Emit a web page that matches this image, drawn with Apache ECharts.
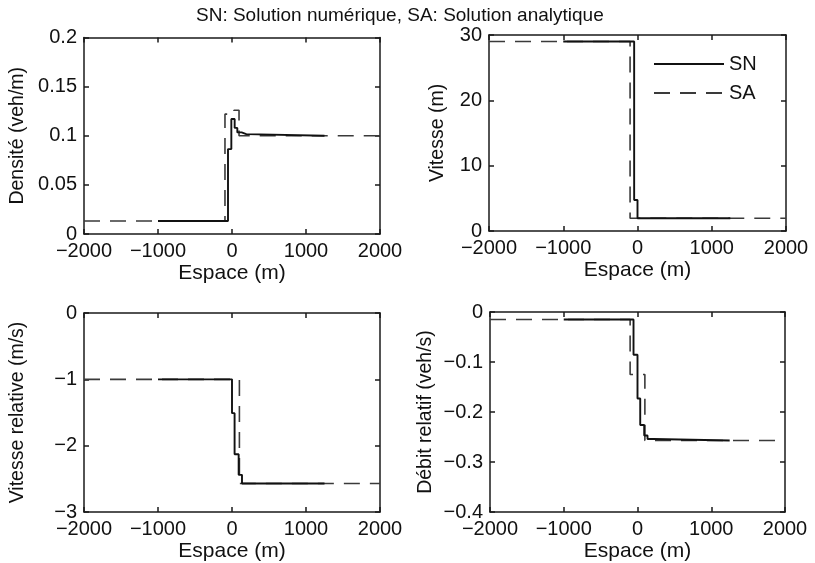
<!DOCTYPE html>
<html>
<head>
<meta charset="utf-8">
<script src="https://cdn.jsdelivr.net/npm/echarts@6/dist/echarts.min.js"></script>
<style>html,body{margin:0;padding:0;background:#fff;}#c{width:815px;height:563px;}</style>
</head>
<body>
<div id="c"></div>
<script>
// ---- data ----
const xTicks = [-2000, -1000, 0, 1000, 2000];
const densTicks = [0, 0.05, 0.1, 0.15, 0.2];
const vitTicks = [0, 10, 20, 30];
const vrelTicks = [-3, -2, -1, 0];
const debTicks = [-0.4, -0.3, -0.2, -0.1, 0];

const seriesNames = ['SN', 'SA'];
const titleText = 'SN: Solution numérique, SA: Solution analytique';
const xName = 'Espace (m)';
const yNames = ['Densité (veh/m)', 'Vitesse (m)', 'Vitesse relative (m/s)', 'Débit relatif (veh/s)'];

// Densité
const densSN_x = [-1000, -54, -9, 36, 72, 130, 193, 1250];
const densSN_y = [0.0133, 0.0864, 0.117, 0.108, 0.1034, 0.1017, 0.1, 0.1];
const densSA_x = [-2000, -95, 27, 95, 2000];
const densSA_y = [0.0133, 0.122, 0.126, 0.1, 0.1];
// Vitesse
const vitSN_x = [-1000, -45, 0, 1250];
const vitSN_y = [29, 4.75, 1.95, 1.95];
const vitSA_x = [-2000, -100, 2000];
const vitSA_y = [29, 1.95, 1.95];
// Vitesse relative
const vrelSN_x = [-1000, 0, 35, 90, 135, 1250];
const vrelSN_y = [-1, -1.51, -2.13, -2.44, -2.57, -2.57];
const vrelSA_x = [-2000, 100, 2000];
const vrelSA_y = [-1, -2.57, -2.57];
// Débit relatif
const debSN_x = [-1000, -54, 0, 37, 91, 136, 218, 1250];
const debSN_y = [-0.015, -0.0855, -0.173, -0.226, -0.247, -0.254, -0.257, -0.257];
const debSA_x = [-2000, -100, 100, 2000];
const debSA_y = [-0.015, -0.125, -0.257, -0.257];

// ---- chart ----
const FONT = '"Liberation Sans", Arial, sans-serif';
const TICK_FS = 20, XNAME_FS = 21, YNAME_FS = 19.5;
const minus = v => String(v).replace('-', '\u2212');
const zip = (xs, ys) => xs.map((x, i) => [x, ys[i]]);

const grids = [
  {left: 84, top: 37.5, width: 296, height: 196.5},
  {left: 489, top: 35, width: 297, height: 196},
  {left: 84, top: 313, width: 296, height: 199.5},
  {left: 490, top: 312, width: 295, height: 201.5}
];
const yTickSets = [densTicks, vitTicks, vrelTicks, debTicks];
const yNameGaps = [56, 41, 56, 54];
const sData = [
  [zip(densSA_x, densSA_y), zip(densSN_x, densSN_y)],
  [zip(vitSA_x, vitSA_y), zip(vitSN_x, vitSN_y)],
  [zip(vrelSA_x, vrelSA_y), zip(vrelSN_x, vrelSN_y)],
  [zip(debSA_x, debSA_y), zip(debSN_x, debSN_y)]
];

const xAxes = [], yAxes = [], series = [];
const lineCol = '#1a1a1a';
grids.forEach((g, i) => {
  const yt = yTickSets[i];
  const yInt = +(yt[1] - yt[0]).toFixed(6);
  const baseX = {
    type: 'value', gridIndex: i, min: xTicks[0], max: xTicks[xTicks.length - 1],
    interval: xTicks[1] - xTicks[0], splitLine: {show: false},
    axisLine: {show: true, onZero: false, lineStyle: {color: lineCol, width: 1.5}},
    axisTick: {show: true, inside: true, length: 5, lineStyle: {color: lineCol, width: 1.5}}
  };
  xAxes.push(Object.assign({}, baseX, {
    position: 'bottom', name: xName, nameLocation: 'middle', nameGap: 29,
    nameTextStyle: {fontFamily: FONT, fontSize: XNAME_FS, color: '#111'},
    axisLabel: {fontFamily: FONT, fontSize: TICK_FS, color: '#111', margin: 7, formatter: minus}
  }));
  xAxes.push(Object.assign({}, baseX, {position: 'top', axisLabel: {show: false}}));
  const baseY = {
    type: 'value', gridIndex: i, min: yt[0], max: yt[yt.length - 1], interval: yInt,
    splitLine: {show: false},
    axisLine: {show: true, onZero: false, lineStyle: {color: lineCol, width: 1.5}},
    axisTick: {show: true, inside: true, length: 5, lineStyle: {color: lineCol, width: 1.5}}
  };
  yAxes.push(Object.assign({}, baseY, {
    position: 'left', name: yNames[i], nameLocation: 'middle', nameGap: yNameGaps[i],
    nameTextStyle: {fontFamily: FONT, fontSize: YNAME_FS, color: '#111'},
    axisLabel: {fontFamily: FONT, fontSize: TICK_FS, color: '#111', margin: 7, formatter: minus}
  }));
  yAxes.push(Object.assign({}, baseY, {position: 'right', axisLabel: {show: false}}));
  series.push({
    name: seriesNames[1], type: 'line', step: 'end', xAxisIndex: 2 * i, yAxisIndex: 2 * i,
    data: sData[i][0], symbol: 'none', showSymbol: false,
    lineStyle: {color: '#3a3a3a', width: 1.6, type: [16, 10]}, itemStyle: {color: '#3a3a3a'}
  });
  series.push({
    name: seriesNames[0], type: 'line', step: 'end', xAxisIndex: 2 * i, yAxisIndex: 2 * i,
    data: sData[i][1], symbol: 'none', showSymbol: false,
    lineStyle: {color: '#111', width: 1.9, type: 'solid'}, itemStyle: {color: '#111'}
  });
});

const chart = echarts.init(document.getElementById('c'), null, {renderer: 'canvas'});
chart.setOption({
  animation: false,
  backgroundColor: '#fff',
  title: {text: titleText, left: 191, top: 1,
    textStyle: {fontFamily: FONT, fontSize: 19, fontWeight: 'normal', color: '#111'}},
  legend: {
    data: seriesNames, orient: 'vertical', left: 648, top: 49,
    itemWidth: 70, itemHeight: 14, itemGap: 9,
    itemStyle: {opacity: 0},
    textStyle: {fontFamily: FONT, fontSize: TICK_FS, color: '#111'}
  },
  grid: grids,
  xAxis: xAxes,
  yAxis: yAxes,
  series: series
});
</script>
</body>
</html>
